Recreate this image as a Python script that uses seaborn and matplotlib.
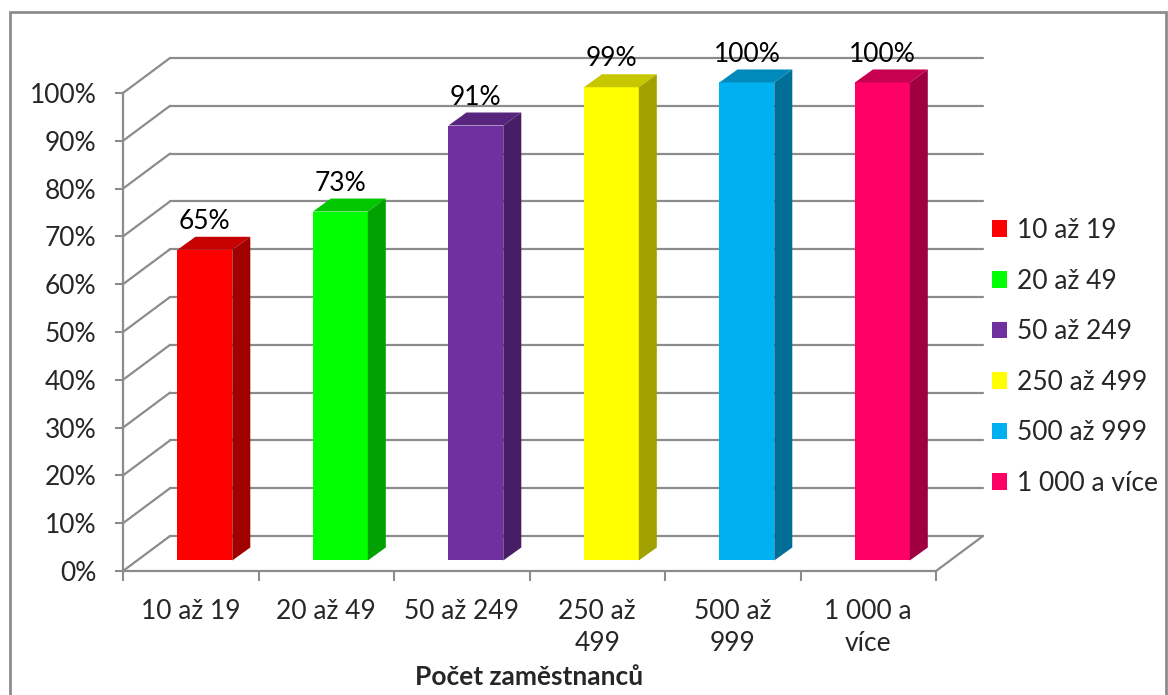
import numpy as np
import pandas as pd
import matplotlib.pyplot as plt
import seaborn as sns
from matplotlib.patches import Polygon, Rectangle
from matplotlib.colors import to_rgb

# Data
categories = ["10 až 19", "20 až 49", "50 až 249", "250 až 499", "500 až 999", "1 000 a více"]
tick_labels = ["10 až 19", "20 až 49", "50 až 249", "250 až\n499", "500 až\n999", "1 000 a\nvíce"]
values = [65, 73, 91, 99, 100, 100]
colors = ["#FF0000", "#00FF00", "#7030A0", "#FFFF00", "#00B0F0", "#FF0066"]

df = pd.DataFrame({"group": categories, "share": values})

sns.set_style("white")
plt.rcParams["font.family"] = ["Lato", "DejaVu Sans"]

W, H = 1168, 695
fig = plt.figure(figsize=(W / 100, H / 100), dpi=100)
ax = fig.add_axes([123 / W, 1 - 571 / H, (936 - 123) / W, (571 - 93) / H])

# fake 3d offsets in data units
BX, BY = 0.347, 7.32   # depth of the box (back wall)
FX, FY = 0.104, 2.2    # front plane of the bars
SX, SY = 0.133, 2.72   # depth of the bars
grid_c = "#8C8C8C"
fs = 19

# back wall + left wall grid
for v in range(0, 101, 10):
    ax.plot([-0.5, -0.5 + BX], [v, v + BY], color=grid_c, lw=1.6, clip_on=False, zorder=0.5)
    ax.plot([-0.5 + BX, 5.5 + BX], [v + BY, v + BY], color=grid_c, lw=1.6, clip_on=False, zorder=0.5)
ax.plot([5.5, 5.5 + BX], [0, BY], color=grid_c, lw=1.6, clip_on=False, zorder=0.5)

# Draw Plot
sns.barplot(data=df, x="group", y="share", hue="group", palette=colors, saturation=1,
            width=0.405, legend=False, ax=ax)

for p, c, v in zip(ax.patches, colors, values):
    p.set_x(p.get_x() + FX)
    p.set_y(FY)
    p.set_clip_on(False)
    p.set_edgecolor("none")
    x0, y0, w, h = p.get_x(), p.get_y(), p.get_width(), p.get_height()
    rgb = np.array(to_rgb(c))
    top = Polygon([(x0, y0 + h), (x0 + w, y0 + h), (x0 + w + SX, y0 + h + SY), (x0 + SX, y0 + h + SY)],
                  closed=True, fc=rgb * 0.78, ec="none", clip_on=False, zorder=p.get_zorder())
    side = Polygon([(x0 + w, y0), (x0 + w + SX, y0 + SY), (x0 + w + SX, y0 + h + SY), (x0 + w, y0 + h)],
                   closed=True, fc=rgb * 0.63, ec="none", clip_on=False, zorder=p.get_zorder())
    ax.add_patch(top)
    ax.add_patch(side)
    ax.annotate(f"{v}%", (x0 + w / 2, y0 + h), xytext=(0, 15), textcoords="offset points",
                ha="center", va="baseline", fontsize=fs, color="black", annotation_clip=False)

ax.set_xlim(-0.5, 5.5)
ax.set_ylim(0, 100)

# Decoration
ax.set_yticks(range(0, 101, 10))
ax.set_yticklabels([f"{t}%" for t in range(0, 101, 10)])
ax.set_xticks(range(len(categories)))
ax.set_xticklabels(tick_labels, linespacing=1.35)
ax.set_xticks(np.arange(-0.5, 6, 1), minor=True)
ax.tick_params(axis="y", length=6, width=1.5, color=grid_c, pad=13, labelsize=fs, left=True)
ax.tick_params(axis="x", which="major", length=0, pad=20, labelsize=fs)
ax.tick_params(axis="x", which="minor", length=7, width=1.5, color=grid_c, bottom=True)
for s in ["top", "right"]:
    ax.spines[s].set_visible(False)
for s in ["left", "bottom"]:
    ax.spines[s].set_color(grid_c)
    ax.spines[s].set_linewidth(1.6)
ax.set_ylabel("")
ax.set_xlabel("Počet zaměstnanců", fontsize=fs, fontweight="bold")
ax.xaxis.set_label_coords(0.5, (571 - 665) / 478)

handles = [Rectangle((0, 0), 1, 1, fc=c, ec="none") for c in colors]
fig.legend(handles, categories, loc="center left", bbox_to_anchor=(981 / W, 1 - 357 / H),
           frameon=False, fontsize=fs, handlelength=0.6, handleheight=0.6,
           handletextpad=0.35, labelspacing=0.97, borderaxespad=0)

# chart border
fig.add_artist(Rectangle((10 / W, -0.01), (1166 - 10) / W, (695 - 12) / H + 0.01,
                         transform=fig.transFigure, fill=False, ec=grid_c, lw=2))

fig.savefig("out.png", dpi=100)
